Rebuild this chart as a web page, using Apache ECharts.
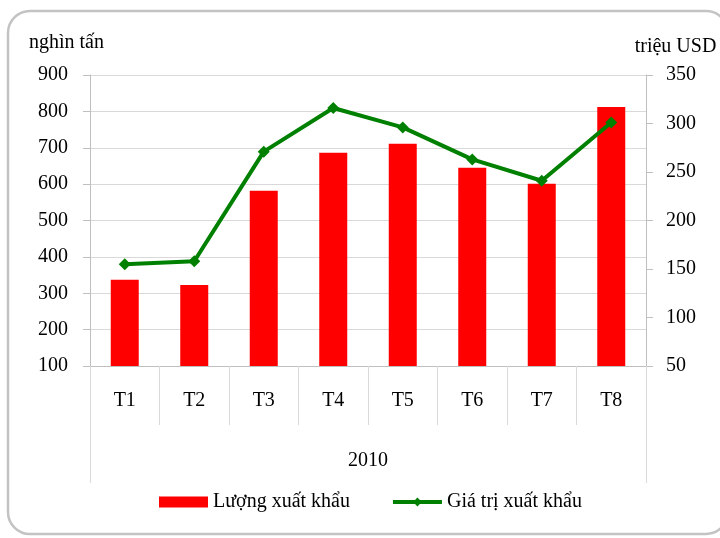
<!DOCTYPE html>
<html>
<head>
<meta charset="utf-8">
<script src="https://cdn.jsdelivr.net/npm/echarts@6/dist/echarts.min.js"></script>
<style>
html, body { margin: 0; padding: 0; background: #fff; }
#main { width: 720px; height: 538px; }
</style>
</head>
<body>
<div id="main"></div>
<script>
var months = ['T1', 'T2', 'T3', 'T4', 'T5', 'T6', 'T7', 'T8'];
var years = ['2010'];
// lượng xuất khẩu (nghìn tấn)
var luong = [337, 323, 582, 686, 711, 645, 601, 812];
// giá trị xuất khẩu (triệu USD)
var giaTri = [155, 158, 271, 316, 296, 263, 241, 301];

var font = 'Liberation Serif, Times New Roman, serif';
var myChart = echarts.init(document.getElementById('main'));

var option = {
    animation: false,
    textStyle: { fontFamily: font, color: '#000' },
    graphic: [{
        type: 'rect',
        shape: { x: 8, y: 11, width: 720, height: 523, r: 22 },
        style: { fill: 'none', stroke: '#c3c3c3', lineWidth: 2.5 },
        silent: true
    }],
    grid: { left: 90, right: 74, top: 75, bottom: 172 },
    legend: {
        left: 159,
        top: 492,
        padding: 0,
        itemWidth: 49,
        itemHeight: 11,
        itemGap: 41,
        lineStyle: { width: 'inherit' },
        textStyle: { fontFamily: font, fontSize: 20, color: '#000' },
        data: [{ name: 'Lượng xuất khẩu', icon: 'rect' }, { name: 'Giá trị xuất khẩu' }]
    },
    xAxis: [{
        type: 'category',
        data: months,
        position: 'bottom',
        axisLine: { lineStyle: { color: '#bfbfbf', width: 1 } },
        axisTick: { show: true, length: 59, interval: 0, lineStyle: { color: '#d9d9d9' } },
        axisLabel: { fontFamily: font, fontSize: 20, color: '#000', margin: 25 }
    }, {
        type: 'category',
        data: years,
        position: 'bottom',
        offset: 0,
        axisLine: { show: false },
        axisTick: { show: true, length: 117, lineStyle: { color: '#d9d9d9' } },
        axisLabel: { fontFamily: font, fontSize: 20, color: '#000', margin: 85 }
    }],
    yAxis: [{
        type: 'value',
        min: 100,
        max: 900,
        interval: 100,
        name: 'nghìn tấn',
        nameLocation: 'end',
        nameGap: 22,
        nameTextStyle: { fontFamily: font, fontSize: 20, color: '#000', padding: [0, 47, 0, 0] },
        axisLine: { show: true, lineStyle: { color: '#bfbfbf' } },
        axisTick: { show: true, length: 7, lineStyle: { color: '#bfbfbf' } },
        axisLabel: { fontFamily: font, fontSize: 20, color: '#000', margin: 22 },
        splitLine: { lineStyle: { color: '#d9d9d9' } }
    }, {
        type: 'value',
        min: 50,
        max: 350,
        interval: 50,
        name: 'triệu USD',
        nameLocation: 'end',
        nameGap: 18,
        nameTextStyle: { fontFamily: font, fontSize: 20, color: '#000', padding: [0, 0, 0, 59] },
        axisLine: { show: true, lineStyle: { color: '#bfbfbf' } },
        axisTick: { show: true, length: 7, lineStyle: { color: '#bfbfbf' } },
        axisLabel: { fontFamily: font, fontSize: 20, color: '#000', margin: 20 },
        splitLine: { show: false }
    }],
    series: [{
        name: 'Lượng xuất khẩu',
        type: 'bar',
        xAxisIndex: 0,
        yAxisIndex: 0,
        barWidth: 28,
        itemStyle: { color: '#ff0000' },
        data: luong
    }, {
        name: 'Giá trị xuất khẩu',
        type: 'line',
        xAxisIndex: 0,
        yAxisIndex: 1,
        symbol: 'diamond',
        symbolSize: 12,
        lineStyle: { color: '#008000', width: 4 },
        itemStyle: { color: '#008000' },
        data: giaTri
    }]
};
myChart.setOption(option);
</script>
</body>
</html>
